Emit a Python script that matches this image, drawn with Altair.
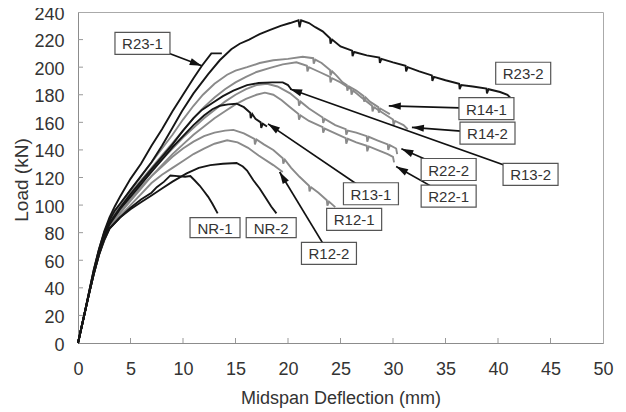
import math
import altair as alt
import pandas as pd

FONT = "Liberation Sans"
X_TITLE = "Midspan Deflection (mm)"
Y_TITLE = "Load (kN)"
X_TICKS = [0, 5, 10, 15, 20, 25, 30, 35, 40, 45, 50]
Y_TICKS = [0, 20, 40, 60, 80, 100, 120, 140, 160, 180, 200, 220, 240]

# ---- curves (deflection mm, load kN) ----
R23_1_x = [0, 0.5, 1, 1.5, 2, 2.5, 3, 3.5, 4, 5, 6, 7, 8, 9, 10, 11, 11.8, 12.7, 13.7]
R23_1_y = [0, 17, 35, 53, 68, 81, 91, 99, 106, 119, 130, 143, 155, 168, 180, 192, 201, 210, 210]

R23_2_x = [0, 0.5, 1, 1.5, 2, 2.5, 3, 3.5, 4, 5, 6, 7, 8, 9, 9.9, 11, 12.4, 13.5, 14.6, 15.4,
           16.3, 17.3, 18.3, 19.3, 20.2, 21.0, 21.1, 21.25, 22.0, 22.6, 23.3, 24.0, 24.05, 24.2,
           25.0, 26.1, 26.15, 26.3, 27.5, 28.7, 28.75, 28.9, 30.0, 31.2, 31.25, 31.4, 32.5, 33.7,
           33.75, 33.9, 35.0, 36.3, 36.35, 36.5, 37.6, 38.9, 38.95, 39.1, 40.2, 40.9, 41.4]
R23_2_y = [0, 17, 35, 53, 68, 80, 89, 96, 101, 111, 121, 131, 143, 156, 168, 181, 195, 205, 213, 217,
           220, 224, 227, 230, 232, 234, 229, 234, 232, 229, 226, 221, 217, 220,
           215, 212, 208, 211, 208.5, 207, 203, 206, 203.5, 201, 197, 200, 197, 194,
           190, 193, 190.5, 188, 184, 187, 186, 184.5, 181, 184, 182, 180, 176]

R14_1_x = [0, 0.5, 1, 1.5, 2, 2.5, 3, 4, 5, 6, 7, 8, 9, 10, 11, 11.9, 13, 14.2, 15, 16.1, 17.3,
           18.6, 20, 21.4, 22.4, 22.45, 22.6, 23.2, 24, 24.05, 24.2, 24.6, 25.2, 25.6, 25.65, 25.8,
           26.5, 27.2, 27.25, 27.4, 27.8, 28.6, 28.65, 28.8, 29.7]
R14_1_y = [0, 17, 35, 52, 67, 79, 88, 100, 111, 121, 131, 141, 151, 162, 172, 180, 188, 194.5, 197.5,
           200, 203, 205, 206, 207.5, 206.5, 202.5, 205.5, 203, 198, 194, 197, 194, 189, 187, 183, 186,
           183, 179, 175, 178, 175, 171, 167, 170, 166]

R14_2_x = [0, 0.5, 1, 1.5, 2, 2.5, 3, 4, 5, 6, 7, 8, 9, 10, 11, 12, 13, 14, 15, 16, 17, 18.3,
           19.5, 20.8, 21.8, 21.85, 22, 23, 24, 24.05, 24.2, 25, 26, 26.05, 26.2, 27, 28, 28.05,
           28.2, 29, 30, 30.05, 30.2, 31, 31.4]
R14_2_y = [0, 17, 34, 51, 66, 78, 87, 98, 109, 118, 127, 136, 145, 154, 163, 171, 178, 184, 189,
           193, 196.5, 199.5, 202, 203.5, 201, 197, 200, 196.5, 193, 189, 192, 189, 184, 180,
           183, 178, 172, 168, 171, 167, 162, 158, 161, 158, 155]

R22_2_x = [0, 0.5, 1, 1.5, 2, 2.5, 3, 4, 5, 6, 7, 8, 9, 10, 11, 12, 13, 14, 15, 16, 17, 18, 19,
           20.2, 21, 21.05, 21.2, 22, 23.3, 23.35, 23.5, 24.5, 25.5, 25.55, 25.7, 26.5, 27.5,
           27.55, 27.7, 28.5, 29.5, 29.55, 29.7, 30.3, 30.4]
R22_2_y = [0, 17, 34, 51, 66, 77, 86, 97, 107, 116, 125, 133, 141, 149, 156, 163, 169, 175, 180,
           184, 187, 188, 186, 181, 176, 172, 175, 170, 163.5, 159.5, 162.5, 158, 155, 151, 154,
           152.5, 150, 146, 149.5, 147, 144, 140, 143.5, 141, 137]

R22_1_x = [0, 0.5, 1, 1.5, 2, 2.5, 3, 4, 5, 6, 7, 8, 9, 10, 11, 12, 13, 14, 15, 16, 17, 17.8,
           18.6, 19.4, 20.2, 21, 21.05, 21.2, 22, 23.3, 23.35, 23.5, 24.5, 25.5, 25.55, 25.7,
           26.5, 27.5, 27.55, 27.7, 28.5, 29.5, 30, 30.1]
R22_1_y = [0, 17, 34, 50, 65, 76, 85, 95, 104, 113, 121, 129, 137, 144, 151, 157, 163, 168, 173,
           177, 180, 181.5, 180, 176, 171, 166, 162, 165, 161, 156.5, 152.5, 155.5, 152, 148.5,
           144.5, 148, 145.5, 143, 139, 142.5, 140, 137, 135, 131]

R13_2_x = [0, 0.5, 1, 1.5, 2, 2.5, 3, 4, 5, 6, 7, 8, 9, 10, 11, 11.8, 12.8, 13.8, 14.8, 16.1,
           17.2, 18.5, 19.5, 20, 20.3]
R13_2_y = [0, 17, 34, 51, 66, 78, 87, 98, 108, 117, 126, 135, 144, 154, 163, 169, 174, 179, 183,
           187, 188.5, 189, 189, 187, 184]

R13_1_x = [0, 0.5, 1, 1.5, 2, 2.5, 3, 4, 5, 6, 7, 8, 9, 10, 11, 12, 12.8, 13.5, 14.3, 15.1,
           15.8, 16.4, 16.45, 16.6, 16.9, 17.4, 17.45, 17.6, 18]
R13_1_y = [0, 17, 34, 51, 66, 77, 86, 97, 106, 115, 124, 133, 142, 150, 158, 165, 169.5, 172,
           173, 173.5, 171, 167, 163, 166, 162.5, 160, 156, 159, 157]

R12_1_x = [0, 0.5, 1, 1.5, 2, 2.5, 3, 4, 5, 6, 7, 8, 9, 10, 11, 12, 13, 14, 14.8, 15.8, 16.8,
           16.85, 17, 17.7, 18.6, 19.5, 19.55, 19.7, 20.3, 21.1, 22, 22.05, 22.2, 22.9, 23.7,
           23.75, 23.9, 24.5]
R12_1_y = [0, 17, 34, 50, 64, 75, 84, 94, 103, 112, 121, 128, 135, 141, 146, 150, 152.5, 154,
           154.5, 152, 148, 144, 147.5, 144, 140, 134, 130, 133, 127, 120.5, 114, 110, 113, 109,
           103.5, 99.5, 102.5, 98.5]

R12_2_x = [0, 0.5, 1, 1.5, 2, 2.5, 3, 4, 5, 6, 7, 8, 9, 10, 11, 12, 13, 14.2, 15.2, 16.2, 17.2,
           18.6, 19.5]
R12_2_y = [0, 17, 34, 50, 64, 74, 83, 92, 100, 108, 116, 122, 127, 132, 137, 141, 144.5, 147,
           145.5, 141.5, 136, 129, 124]

NR_1_x = [0, 0.5, 1, 1.5, 2, 2.5, 3, 4, 5, 6, 7, 7.5, 8.2, 8.8, 9.5, 10.2, 10.7, 11.1, 11.6,
          12, 12.4, 12.8, 13.3]
NR_1_y = [0, 17, 34, 50, 64, 75, 83, 91, 98, 104, 109, 113, 117, 121.5, 121, 120.5, 121, 118,
          114, 110, 106, 101, 94]

NR_2_x = [0, 0.5, 1, 1.5, 2, 2.5, 3, 4, 5, 6, 7, 8, 9, 10.35, 11.5, 12.6, 13.8, 15.1, 15.7,
          16.1, 16.7, 17.3, 17.9, 18.4, 18.9]
NR_2_y = [0, 17, 34, 50, 64, 75, 83, 91, 97, 102, 107, 112, 117, 123, 127, 129, 130, 130.5, 128,
          125, 118, 112, 105, 99, 94]

GRAY_SERIES = {
    "R14-1": (R14_1_x, R14_1_y), "R14-2": (R14_2_x, R14_2_y),
    "R22-2": (R22_2_x, R22_2_y), "R22-1": (R22_1_x, R22_1_y),
    "R12-1": (R12_1_x, R12_1_y), "R12-2": (R12_2_x, R12_2_y),
}
BLACK_SERIES = {
    "R23-1": (R23_1_x, R23_1_y), "R23-2": (R23_2_x, R23_2_y),
    "R13-2": (R13_2_x, R13_2_y), "R13-1": (R13_1_x, R13_1_y),
    "NR-1": (NR_1_x, NR_1_y), "NR-2": (NR_2_x, NR_2_y),
}

# ---- annotation labels (box centres in data units) ----
LABEL_TEXT = ["R23-1", "R23-2", "R14-1", "R14-2", "R22-2", "R22-1", "R13-2", "R13-1",
              "R12-1", "R12-2", "NR-1", "NR-2"]
LABEL_X = [6.14, 42.4, 38.9, 39.0, 35.3, 35.3, 43.1, 27.9, 26.3, 23.9, 13.05, 18.4]
LABEL_Y = [217.3, 195.6, 169.9, 152.2, 125.8, 106.5, 122.2, 108.2, 89.6, 65.0, 83.7, 83.7]

# ---- arrows: label -> point on curve ----
ARROW_FROM = ["R23-1", "R14-1", "R14-2", "R22-2", "R22-1", "R13-2", "R13-1", "R12-2"]
ARROW_TIP_X = [11.78, 29.6, 31.8, 30.8, 30.3, 20.2, 18.1, 19.2]
ARROW_TIP_Y = [201.0, 172.0, 156.4, 140.8, 128.0, 184.2, 158.9, 124.0]

W, H = 525, 331
PX_X = W / 50.0
PX_Y = H / 240.0


def to_long(series):
    rows = []
    for name, (xs_, ys_) in series.items():
        for i, (a, b) in enumerate(zip(xs_, ys_)):
            rows.append({"series": name, "i": i, "x": a, "y": b})
    return pd.DataFrame(rows)


gray_df = to_long(GRAY_SERIES)
black_df = to_long(BLACK_SERIES)

lab_df = pd.DataFrame({"text": LABEL_TEXT, "x": LABEL_X, "y": LABEL_Y})
lab_df["bsize"] = [(2 * 25.0) ** 2 if t.startswith("NR") else (2 * 27.5) ** 2 for t in LABEL_TEXT]

arrows = []
for name, tx, ty in zip(ARROW_FROM, ARROW_TIP_X, ARROW_TIP_Y):
    k = LABEL_TEXT.index(name)
    x0, y0 = LABEL_X[k], LABEL_Y[k]
    dxp = (tx - x0) * PX_X
    dyp = -(ty - y0) * PX_Y
    ang = math.degrees(math.atan2(dxp, -dyp)) % 360
    arrows.append({"x": x0, "y": y0, "x1": tx, "y1": ty, "angle": ang})
arr_df = pd.DataFrame(arrows)

xs = alt.Scale(domain=[0, 50], nice=False, zero=False)
ys = alt.Scale(domain=[0, 240], nice=False, zero=False)
xaxis = alt.Axis(title=X_TITLE, values=X_TICKS, ticks=False, labelPadding=17, labelFontSize=18,
                 labelFont=FONT, labelColor="#333333", titleFont=FONT, titleFontSize=18,
                 titleFontWeight="normal", titleColor="#333333", titleY=60,
                 titleBaseline="alphabetic", grid=False, domainColor="#8c8c8c",
                 labelFlush=False, labelOverlap=False)
yaxis = alt.Axis(title=Y_TITLE, values=Y_TICKS, ticks=False, labelPadding=14, labelFontSize=18,
                 labelFont=FONT, labelColor="#333333", labelOffset=2, titleFont=FONT,
                 titleFontSize=19, titleFontWeight="normal", titleColor="#333333", titleX=-57,
                 titleY=H / 2 + 2, titleAngle=270, titleBaseline="middle", titleAlign="center",
                 grid=False, domainColor="#8c8c8c", labelFlush=False, labelOverlap=False)


def X(f):
    return alt.X(f, type="quantitative", scale=xs, axis=xaxis)


def Y(f):
    return alt.Y(f, type="quantitative", scale=ys, axis=yaxis)


xt = pd.DataFrame({"x": X_TICKS[1:-1]})
yt = pd.DataFrame({"y": Y_TICKS[1:-1]})

xtick_layer = alt.Chart(xt).mark_rule(color="#999999", strokeWidth=1).encode(
    x=X("x"), y=alt.value(H), y2=alt.value(H - 5))
ytick_layer = alt.Chart(yt).mark_rule(color="#999999", strokeWidth=1).encode(
    y=Y("y"), x=alt.value(0), x2=alt.value(5))

gray_layer = alt.Chart(gray_df).mark_line(color="#8a8a8a", strokeWidth=1.9).encode(
    x=X("x"), y=Y("y"), detail="series:N", order="i:Q")
black_layer = alt.Chart(black_df).mark_line(color="#161616", strokeWidth=1.9).encode(
    x=X("x"), y=Y("y"), detail="series:N", order="i:Q")

arrow_lines = alt.Chart(arr_df).mark_rule(color="#111111", strokeWidth=1.7).encode(
    x=X("x"), y=Y("y"), x2="x1:Q", y2="y1:Q")
HEAD = "M0,0L-0.6,2L0.6,2Z"
arrow_heads = alt.Chart(arr_df).mark_point(shape=HEAD, filled=True, fill="#111111", opacity=1,
                                           size=144, strokeWidth=0).encode(
    x=X("x1"), y=Y("y1"), angle=alt.Angle("angle:Q", scale=None))

BOX = "M-1,-0.4L1,-0.4L1,0.4L-1,0.4Z"
boxes = alt.Chart(lab_df).mark_point(shape=BOX, filled=True, fill="white", stroke="#555555",
                                     strokeWidth=1.2, opacity=1).encode(
    x=X("x"), y=Y("y"), size=alt.Size("bsize:Q", scale=None))
texts = alt.Chart(lab_df).mark_text(font=FONT, fontSize=15, color="#333333", align="center",
                                    baseline="middle", dy=1).encode(
    x=X("x"), y=Y("y"), text="text:N")

chart = alt.layer(xtick_layer, ytick_layer, gray_layer, black_layer, arrow_lines, arrow_heads,
                  boxes, texts).properties(
    width=W, height=H,
    padding={"left": 70, "top": 4, "right": 15, "bottom": 69},
    autosize=alt.AutoSizeParams(type="none"),
).configure_view(stroke="#aaaaaa", strokeWidth=1)

chart.save("out.html", embed_options={"renderer": "svg", "actions": False})
